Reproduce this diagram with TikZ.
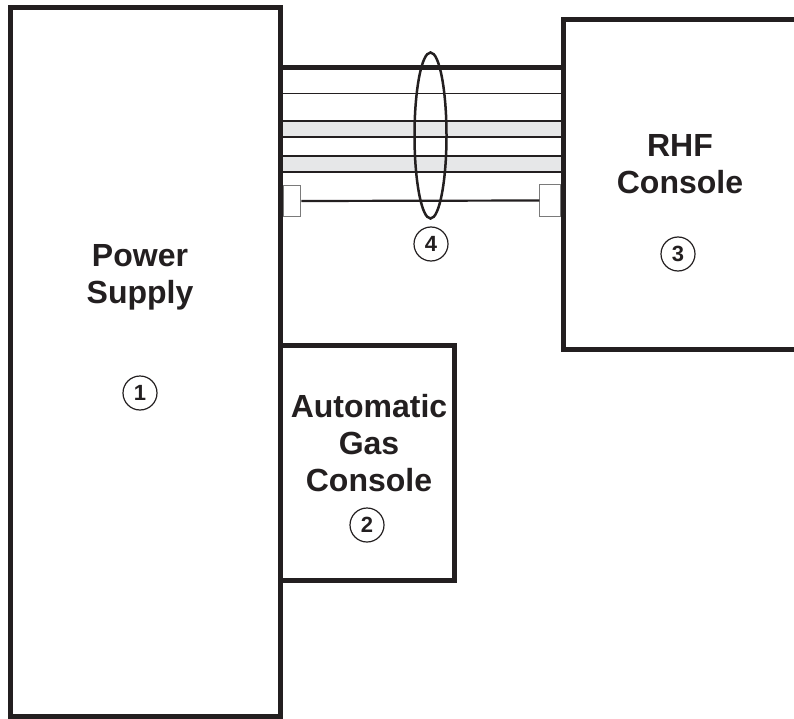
\documentclass[tikz,border=0pt]{standalone}
\usepackage{fontspec}
\setmainfont{Liberation Sans}
\definecolor{ink}{HTML}{231F20}
\definecolor{band}{HTML}{E6E7E8}
\definecolor{plug}{HTML}{7A7A7A}
\tikzset{
  unitbox/.style={draw=ink, line width=5pt, inner sep=0pt, fill=none},
  lbl/.style={font=\bfseries\fontsize{32}{37}\selectfont, text=ink, align=center, inner sep=0pt},
  num/.style={draw=ink, line width=1.2pt, circle, minimum size=34pt, inner sep=0pt,
              font=\bfseries\fontsize{22}{22}\selectfont, text=ink},
  wire/.style={draw=ink, line width=2.2pt},
  plugbox/.style={draw=plug, line width=1pt, fill=white, inner sep=0pt}
}
\begin{document}
\begin{tikzpicture}[x=1pt,y=-1pt]
\useasboundingbox (0,0) rectangle (794,719);
\clip (0,0) rectangle (794,719);
\fill[white] (0,0) rectangle (794,719);

% cable coordinates
\coordinate (L1) at (283,67.5);   \coordinate (R1) at (561,67.5);
\coordinate (L2) at (283,93.5);   \coordinate (R2) at (561,93.5);
\coordinate (L3a) at (283,121);   \coordinate (R3a) at (561,121);
\coordinate (L3b) at (283,137);   \coordinate (R3b) at (561,137);
\coordinate (L4a) at (283,156);   \coordinate (R4a) at (561,156);
\coordinate (L4b) at (283,172);   \coordinate (R4b) at (561,172);

% gray bands
\fill[band] (L3a) rectangle (R3b);
\fill[band] (L4a) rectangle (R4b);

% wires
\draw[draw=ink, line width=4.5pt] (L1) -- (R1);
\draw[wire, line width=1.8pt] (L2) -- (R2);
\draw[wire] (L3a) -- (R3a);
\draw[wire] (L3b) -- (R3b);
\draw[wire] (L4a) -- (R4a);
\draw[wire] (L4b) -- (R4b);

% plugs and cable
\node[plugbox, minimum width=17.5pt, minimum height=31.5pt] (pl) at (292,201) {};
\node[plugbox, minimum width=20.5pt, minimum height=31.5pt] (pr) at (550,200.5) {};
\draw[wire] (pl.east) -- (pr.west);

% bundle ellipse
\draw[draw=ink, line width=2.5pt] (430.5,135.5) ellipse [x radius=16pt, y radius=83pt];

% units
\node[unitbox, minimum width=270pt, minimum height=709pt] (ps) at (145.5,362) {};
\node[unitbox, minimum width=174pt, minimum height=235pt] (agc) at (367.5,463) {};
\node[unitbox, minimum width=260pt, minimum height=330pt] (rhf) at (693.5,184.5) {};

% labels
\node[lbl] (pst) at (140,277) {Power\\Supply};
\node[lbl] (agct) at (369,443) {Automatic\\Gas\\Console};
\node[lbl] (rhft) at (680,164) {RHF\\Console};

% numbers
\node[num] (n1) at (140,393) {1};
\node[num] (n2) at (367,525) {2};
\node[num] (n3) at (678,254) {3};
\node[num] (n4) at (431,244) {4};
\end{tikzpicture}
\end{document}
